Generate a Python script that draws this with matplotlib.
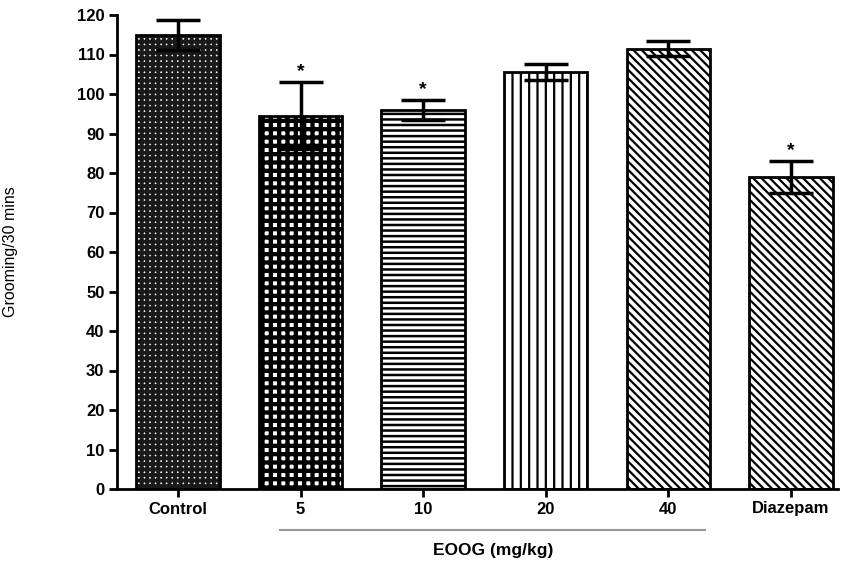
import numpy as np
import matplotlib.pyplot as plt

groups = ["Control", "5", "10", "20", "40", "Diazepam"]
means = [115.0, 94.5, 96.0, 105.5, 111.5, 79.0]
sems = [3.8, 8.5, 2.5, 2.0, 1.8, 4.0]
significant = [False, True, True, False, False, True]

# hatch style per bar: (face, hatch colour, hatch, hatch linewidth)
styles = [
    ("white", "#1a1a1a", "+++", 2.8),
    ("white", "black", "++", 3.1),
    ("white", "black", "---", 1.8),
    ("white", "black", "||", 1.6),
    ("white", "black", "\\\\\\\\", 1.6),
    ("white", "black", "\\\\\\\\", 1.6),
]

plt.rcParams['font.family'] = ['Liberation Sans', 'DejaVu Sans']

fig = plt.figure(figsize=(8.43, 5.67), dpi=100)
ax = fig.add_axes([117 / 843, 78 / 567, (838 - 117) / 843, (552 - 78) / 567])

x = np.arange(len(groups))
width = 0.68
for i in range(len(groups)):
    face, hc, hatch, hlw = styles[i]
    with plt.rc_context({'hatch.linewidth': hlw}):
        ax.bar(x[i], means[i], width, color=face, edgecolor=hc, hatch=hatch, linewidth=0, zorder=2)
    ax.bar(x[i], means[i], width, fill=False, edgecolor="black", linewidth=2, zorder=3)

ax.errorbar(x, means, yerr=sems, fmt="none", ecolor="black", elinewidth=2.5,
            capsize=16, capthick=2.5, zorder=4)

for i in range(len(groups)):
    if significant[i]:
        ax.text(x[i], means[i] + sems[i] + 0.5, "*", ha="center", va="bottom",
                fontsize=14, fontweight="bold")

ax.set_xlim(-0.497, 5.383)
ax.set_ylim(0, 120)
ax.set_yticks(np.arange(0, 121, 10))
ax.set_xticks(x)
ax.set_xticklabels(groups)
for lab in ax.get_xticklabels() + ax.get_yticklabels():
    lab.set_fontweight("bold")
    lab.set_fontsize(12)
ax.tick_params(axis="both", direction="out", length=6, width=2, pad=3)
ax.spines["top"].set_visible(False)
ax.spines["right"].set_visible(False)
ax.spines["left"].set_linewidth(2)
ax.spines["bottom"].set_linewidth(2)

ax.set_ylabel("Grooming/30 mins", fontsize=11.5, family=['Liberation Sans Narrow', 'Liberation Sans'])
ax.yaxis.set_label_coords(-0.137, 0.5)

# group bracket under doses
fig.add_artist(plt.Line2D([280 / 843, 705 / 843], [37 / 567, 37 / 567], color="#999999", linewidth=1.5))
fig.text(493 / 843, 16 / 567, "EOOG (mg/kg)", ha="center", va="center", fontsize=12.5, fontweight="bold")

fig.savefig("out.png", dpi=100)
